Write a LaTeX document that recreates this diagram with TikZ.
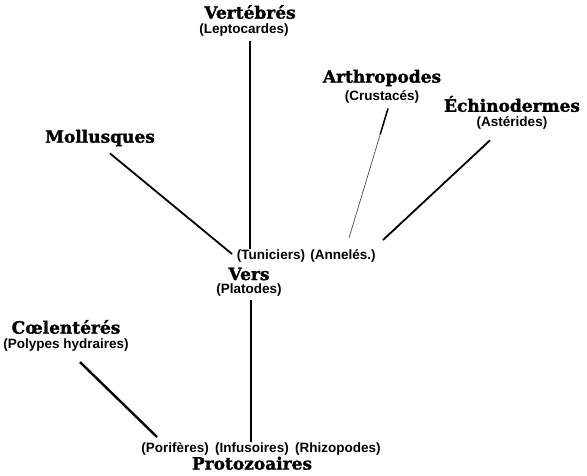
\documentclass[tikz,border=0pt]{standalone}
\usepackage{fontspec}
\newfontfamily\groupfont{DejaVu Serif}[BoldFeatures={FakeBold=1.6}]
\newfontfamily\subfont{Liberation Sans}
\usetikzlibrary{positioning}
\tikzset{
x=1pt, y=-1pt, % one unit is one pixel of the page, y runs down
group/.style={font=\groupfont\bfseries\fontsize{17}{18}\selectfont, inner sep=1pt}, % name of a phylum
sub/.style={font=\subfont\bfseries\fontsize{13.5}{14}\selectfont, inner sep=1pt}, % class in brackets
branch/.style={line width=1.8pt}, % a branch of the tree
twig/.style={line width=0.7pt, black!70}, % the faint branch
}

\begin{document}
\begin{tikzpicture}
      \useasboundingbox (0,0) rectangle (587,476);

      \node[group] (vert) at (250,12) {Vertébrés};
      \node[sub, below=2pt of vert, xshift=-6pt] (lepto) {(Leptocardes)};
      \node[group] (arth) at (382,78) {Arthropodes};
      \node[sub, below=2pt of arth] (crust) {(Crustacés)};
      \node[group] (echi) at (512,104) {Échinodermes};
      \node[sub, below=2pt of echi] (aster) {(Astérides)};
      \node[group] (moll) at (100,138) {Mollusques};

      \node[sub] (tun) at (271,256) {(Tuniciers)};
      \node[sub, right=3pt of tun] (ann) {(Annelés.)};
      \node[group] (vers) at (249,274) {Vers};
      \node[sub, below=1pt of vers] (plat) {(Platodes)};

      \node[group] (coel) at (66,327) {Cœlentérés};
      \node[sub, below=2pt of coel] (poly) {(Polypes hydraires)};

      \node[sub] (infu) at (252,449) {(Infusoires)};
      \node[sub, left=4pt of infu] (pori) {(Porifères)};
      \node[sub, right=4pt of infu] (rhiz) {(Rhizopodes)};
      \node[group, below=-1pt of infu] (proto) {Protozoaires};

      \coordinate (arthend) at (349,238);
      \coordinate (echiend) at (383,240);
      \coordinate (mollend) at (232,254);
      \coordinate (coelend) at (157,437);

      \draw[line width=1.4pt] (vert.south |- lepto.south) ++(0,4) -- (vert.south |- tun.north);
      % the Arthropodes branch is strong at the top and fades out
      \draw[twig] ([xshift=6pt, yshift=-4pt]crust.south) -- (arthend) coordinate[pos=0.2] (arthmid);
      \draw[line width=1.5pt] ([xshift=6pt, yshift=-4pt]crust.south) -- (arthmid);
      \draw[branch] ([xshift=-22pt, yshift=-10pt]aster.south) -- (echiend);
      \draw[branch] ([xshift=10pt, yshift=-6pt]moll.south) -- (mollend);
      \draw[branch] ([xshift=2pt, yshift=-2pt]plat.south) -- ([xshift=2pt]plat.south |- infu.north);
      \draw[line width=2.4pt] ([xshift=14pt, yshift=-10pt]poly.south) -- (coelend);
    \end{tikzpicture}
\end{document}
